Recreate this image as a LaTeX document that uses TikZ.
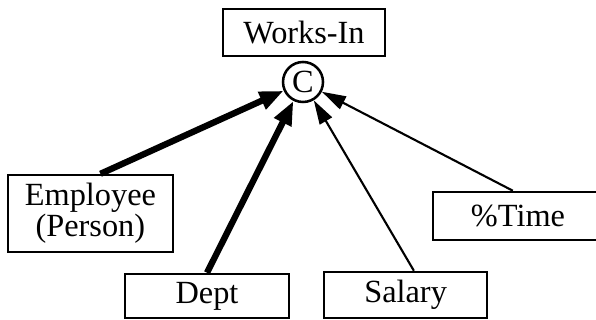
\documentclass[tikz,border=0pt]{standalone}
\usepackage{fontspec}
\setmainfont{Liberation Serif}
\usetikzlibrary{calc,arrows.meta}

\begin{document}
\begin{tikzpicture}[
    ent/.style={draw,line width=1.8pt,rectangle,align=center,inner sep=0pt,
      font=\fontsize{23}{19}\selectfont},
    rel/.style={draw,circle,line width=1.8pt,minimum size=1cm,inner sep=0pt,
      font=\fontsize{23}{19}\selectfont},
    heavy/.style={line width=4.5pt,-{Triangle[length=0.6cm,width=0.45cm]}},
    light/.style={line width=1.5pt,-{Triangle[length=0.6cm,width=0.35cm]}}
  ]

	%% page frame
	\useasboundingbox (0,0) rectangle (14.9,8);

	%% relationship on top, with its connector circle
	\node[ent,minimum width=4.05cm,minimum height=1.175cm] (works) at (7.6,7.19) {Works-In};
	\node[rel] (c) at (7.575,5.95) {C};

	%% participating entities
	\node[ent,minimum width=4.125cm,minimum height=1.925cm] (emp) at (2.26,2.66) {Employee\\(Person)};
	\node[ent,minimum width=4.1cm,minimum height=1.1cm] (dept) at (5.175,0.6) {Dept};
	\node[ent,minimum width=4.075cm,minimum height=1.15cm] (sal) at (10.14,0.625) {Salary};
	\node[ent,minimum width=4.25cm,minimum height=1.2cm] (time) at (12.95,2.6) {\%Time};

	%% where the links leave the boxes
	\coordinate (empfoot) at ($(emp.north)!.12!(emp.north east)$);
	\coordinate (deptfoot) at (dept.north);
	\coordinate (salfoot) at ($(sal.north)!.1!(sal.north east)$);
	\coordinate (timefoot) at ($(time.north)!.06!(time.north west)$);

	%% links into C (key attributes drawn heavy)
	\draw[heavy] (empfoot) -- (c);
	\draw[heavy] (deptfoot) -- (c);
	\draw[light] (salfoot) -- (c);
	\draw[light] (timefoot) -- (c);
\end{tikzpicture}
\end{document}
